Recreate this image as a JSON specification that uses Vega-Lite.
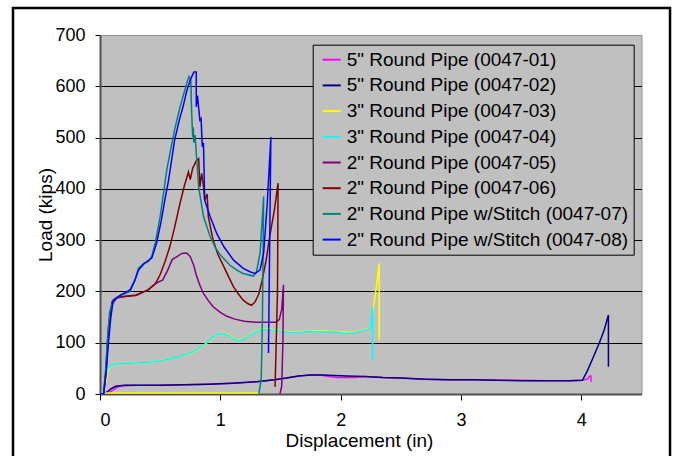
{
  "$schema": "https://vega.github.io/schema/vega-lite/v6.json",
  "autosize": {"type": "none"},
  "width": 541.5,
  "height": 359,
  "padding": {"left": 100, "top": 35, "right": 34.5, "bottom": 62},
  "background": "white",
  "config": {
    "font": "Liberation Sans",
    "view": {"fill": "#C0C0C0", "stroke": "#909090", "strokeWidth": 1}
  },
  "datasets": {
    "frame": [{"x1": -0.723, "x2": 4.737, "y1": -130, "y2": 752.5}]
  },
  "data": {"values": [
    {"s": "5\" Round Pipe (0047-01)", "x": 0, "y": 0},
    {"s": "5\" Round Pipe (0047-01)", "x": 0.05, "y": 0},
    {"s": "5\" Round Pipe (0047-01)", "x": 0.08, "y": 3},
    {"s": "5\" Round Pipe (0047-01)", "x": 0.11, "y": 8},
    {"s": "5\" Round Pipe (0047-01)", "x": 0.15, "y": 14},
    {"s": "5\" Round Pipe (0047-01)", "x": 0.2, "y": 16},
    {"s": "5\" Round Pipe (0047-01)", "x": 0.3, "y": 17},
    {"s": "5\" Round Pipe (0047-01)", "x": 0.5, "y": 17},
    {"s": "5\" Round Pipe (0047-01)", "x": 0.7, "y": 18},
    {"s": "5\" Round Pipe (0047-01)", "x": 0.9, "y": 19},
    {"s": "5\" Round Pipe (0047-01)", "x": 1.1, "y": 21},
    {"s": "5\" Round Pipe (0047-01)", "x": 1.3, "y": 24},
    {"s": "5\" Round Pipe (0047-01)", "x": 1.45, "y": 28},
    {"s": "5\" Round Pipe (0047-01)", "x": 1.55, "y": 31},
    {"s": "5\" Round Pipe (0047-01)", "x": 1.65, "y": 35},
    {"s": "5\" Round Pipe (0047-01)", "x": 1.75, "y": 37},
    {"s": "5\" Round Pipe (0047-01)", "x": 1.83, "y": 37},
    {"s": "5\" Round Pipe (0047-01)", "x": 1.9, "y": 34},
    {"s": "5\" Round Pipe (0047-01)", "x": 1.97, "y": 32},
    {"s": "5\" Round Pipe (0047-01)", "x": 2.05, "y": 32},
    {"s": "5\" Round Pipe (0047-01)", "x": 2.12, "y": 32},
    {"s": "5\" Round Pipe (0047-01)", "x": 2.2, "y": 34},
    {"s": "5\" Round Pipe (0047-01)", "x": 2.35, "y": 32},
    {"s": "5\" Round Pipe (0047-01)", "x": 2.5, "y": 31},
    {"s": "5\" Round Pipe (0047-01)", "x": 2.7, "y": 29},
    {"s": "5\" Round Pipe (0047-01)", "x": 2.9, "y": 28},
    {"s": "5\" Round Pipe (0047-01)", "x": 3.1, "y": 28},
    {"s": "5\" Round Pipe (0047-01)", "x": 3.3, "y": 27},
    {"s": "5\" Round Pipe (0047-01)", "x": 3.5, "y": 27},
    {"s": "5\" Round Pipe (0047-01)", "x": 3.7, "y": 26},
    {"s": "5\" Round Pipe (0047-01)", "x": 3.9, "y": 26},
    {"s": "5\" Round Pipe (0047-01)", "x": 4.0, "y": 27},
    {"s": "5\" Round Pipe (0047-01)", "x": 4.05, "y": 29},
    {"s": "5\" Round Pipe (0047-01)", "x": 4.07, "y": 35},
    {"s": "5\" Round Pipe (0047-01)", "x": 4.08, "y": 35},
    {"s": "5\" Round Pipe (0047-01)", "x": 4.08, "y": 24},

    {"s": "5\" Round Pipe (0047-02)", "x": 0, "y": 0},
    {"s": "5\" Round Pipe (0047-02)", "x": 0.03, "y": 0},
    {"s": "5\" Round Pipe (0047-02)", "x": 0.06, "y": 4},
    {"s": "5\" Round Pipe (0047-02)", "x": 0.09, "y": 10},
    {"s": "5\" Round Pipe (0047-02)", "x": 0.13, "y": 15},
    {"s": "5\" Round Pipe (0047-02)", "x": 0.2, "y": 17},
    {"s": "5\" Round Pipe (0047-02)", "x": 0.3, "y": 17},
    {"s": "5\" Round Pipe (0047-02)", "x": 0.5, "y": 17},
    {"s": "5\" Round Pipe (0047-02)", "x": 0.7, "y": 18},
    {"s": "5\" Round Pipe (0047-02)", "x": 0.9, "y": 19},
    {"s": "5\" Round Pipe (0047-02)", "x": 1.1, "y": 21},
    {"s": "5\" Round Pipe (0047-02)", "x": 1.3, "y": 24},
    {"s": "5\" Round Pipe (0047-02)", "x": 1.45, "y": 28},
    {"s": "5\" Round Pipe (0047-02)", "x": 1.55, "y": 31},
    {"s": "5\" Round Pipe (0047-02)", "x": 1.65, "y": 35},
    {"s": "5\" Round Pipe (0047-02)", "x": 1.75, "y": 37},
    {"s": "5\" Round Pipe (0047-02)", "x": 1.85, "y": 37},
    {"s": "5\" Round Pipe (0047-02)", "x": 1.95, "y": 36},
    {"s": "5\" Round Pipe (0047-02)", "x": 2.05, "y": 35},
    {"s": "5\" Round Pipe (0047-02)", "x": 2.2, "y": 34},
    {"s": "5\" Round Pipe (0047-02)", "x": 2.35, "y": 32},
    {"s": "5\" Round Pipe (0047-02)", "x": 2.5, "y": 31},
    {"s": "5\" Round Pipe (0047-02)", "x": 2.7, "y": 29},
    {"s": "5\" Round Pipe (0047-02)", "x": 2.9, "y": 28},
    {"s": "5\" Round Pipe (0047-02)", "x": 3.1, "y": 28},
    {"s": "5\" Round Pipe (0047-02)", "x": 3.3, "y": 27},
    {"s": "5\" Round Pipe (0047-02)", "x": 3.5, "y": 26},
    {"s": "5\" Round Pipe (0047-02)", "x": 3.7, "y": 26},
    {"s": "5\" Round Pipe (0047-02)", "x": 3.9, "y": 26},
    {"s": "5\" Round Pipe (0047-02)", "x": 4.01, "y": 27},
    {"s": "5\" Round Pipe (0047-02)", "x": 4.05, "y": 45},
    {"s": "5\" Round Pipe (0047-02)", "x": 4.1, "y": 72},
    {"s": "5\" Round Pipe (0047-02)", "x": 4.15, "y": 100},
    {"s": "5\" Round Pipe (0047-02)", "x": 4.19, "y": 125},
    {"s": "5\" Round Pipe (0047-02)", "x": 4.225, "y": 154},
    {"s": "5\" Round Pipe (0047-02)", "x": 4.225, "y": 53},

    {"s": "3\" Round Pipe (0047-03)", "p": "b", "x": 0.03, "y": 2},
    {"s": "3\" Round Pipe (0047-03)", "p": "b", "x": 1.33, "y": 2},
    {"s": "3\" Round Pipe (0047-03)", "x": 0, "y": 0},
    {"s": "3\" Round Pipe (0047-03)", "x": 0.03, "y": 0},
    {"s": "3\" Round Pipe (0047-03)", "x": 0.05, "y": 25},
    {"s": "3\" Round Pipe (0047-03)", "x": 0.07, "y": 48},
    {"s": "3\" Round Pipe (0047-03)", "x": 0.1, "y": 57},
    {"s": "3\" Round Pipe (0047-03)", "x": 0.15, "y": 59},
    {"s": "3\" Round Pipe (0047-03)", "x": 0.25, "y": 60},
    {"s": "3\" Round Pipe (0047-03)", "x": 0.35, "y": 61},
    {"s": "3\" Round Pipe (0047-03)", "x": 0.45, "y": 63},
    {"s": "3\" Round Pipe (0047-03)", "x": 0.55, "y": 67},
    {"s": "3\" Round Pipe (0047-03)", "x": 0.65, "y": 72},
    {"s": "3\" Round Pipe (0047-03)", "x": 0.75, "y": 79},
    {"s": "3\" Round Pipe (0047-03)", "x": 0.82, "y": 87},
    {"s": "3\" Round Pipe (0047-03)", "x": 0.88, "y": 98},
    {"s": "3\" Round Pipe (0047-03)", "x": 0.94, "y": 110},
    {"s": "3\" Round Pipe (0047-03)", "x": 1.0, "y": 119},
    {"s": "3\" Round Pipe (0047-03)", "x": 1.03, "y": 119},
    {"s": "3\" Round Pipe (0047-03)", "x": 1.07, "y": 115},
    {"s": "3\" Round Pipe (0047-03)", "x": 1.11, "y": 108},
    {"s": "3\" Round Pipe (0047-03)", "x": 1.16, "y": 105},
    {"s": "3\" Round Pipe (0047-03)", "x": 1.21, "y": 110},
    {"s": "3\" Round Pipe (0047-03)", "x": 1.27, "y": 119},
    {"s": "3\" Round Pipe (0047-03)", "x": 1.33, "y": 126},
    {"s": "3\" Round Pipe (0047-03)", "x": 1.4, "y": 127},
    {"s": "3\" Round Pipe (0047-03)", "x": 1.48, "y": 124},
    {"s": "3\" Round Pipe (0047-03)", "x": 1.56, "y": 121},
    {"s": "3\" Round Pipe (0047-03)", "x": 1.65, "y": 121},
    {"s": "3\" Round Pipe (0047-03)", "x": 1.75, "y": 123},
    {"s": "3\" Round Pipe (0047-03)", "x": 1.85, "y": 123},
    {"s": "3\" Round Pipe (0047-03)", "x": 1.95, "y": 122},
    {"s": "3\" Round Pipe (0047-03)", "x": 2.05, "y": 120},
    {"s": "3\" Round Pipe (0047-03)", "x": 2.12, "y": 121},
    {"s": "3\" Round Pipe (0047-03)", "x": 2.2, "y": 125},
    {"s": "3\" Round Pipe (0047-03)", "x": 2.25, "y": 130},
    {"s": "3\" Round Pipe (0047-03)", "x": 2.27, "y": 165},
    {"s": "3\" Round Pipe (0047-03)", "x": 2.3, "y": 215},
    {"s": "3\" Round Pipe (0047-03)", "x": 2.32, "y": 255},
    {"s": "3\" Round Pipe (0047-03)", "x": 2.32, "y": 105},

    {"s": "3\" Round Pipe (0047-04)", "x": 0, "y": 0},
    {"s": "3\" Round Pipe (0047-04)", "x": 0.03, "y": 0},
    {"s": "3\" Round Pipe (0047-04)", "x": 0.045, "y": 30},
    {"s": "3\" Round Pipe (0047-04)", "x": 0.065, "y": 50},
    {"s": "3\" Round Pipe (0047-04)", "x": 0.1, "y": 57},
    {"s": "3\" Round Pipe (0047-04)", "x": 0.15, "y": 59},
    {"s": "3\" Round Pipe (0047-04)", "x": 0.25, "y": 60},
    {"s": "3\" Round Pipe (0047-04)", "x": 0.35, "y": 61},
    {"s": "3\" Round Pipe (0047-04)", "x": 0.45, "y": 63},
    {"s": "3\" Round Pipe (0047-04)", "x": 0.55, "y": 67},
    {"s": "3\" Round Pipe (0047-04)", "x": 0.65, "y": 72},
    {"s": "3\" Round Pipe (0047-04)", "x": 0.75, "y": 80},
    {"s": "3\" Round Pipe (0047-04)", "x": 0.82, "y": 88},
    {"s": "3\" Round Pipe (0047-04)", "x": 0.88, "y": 99},
    {"s": "3\" Round Pipe (0047-04)", "x": 0.94, "y": 111},
    {"s": "3\" Round Pipe (0047-04)", "x": 0.99, "y": 118},
    {"s": "3\" Round Pipe (0047-04)", "x": 1.03, "y": 118},
    {"s": "3\" Round Pipe (0047-04)", "x": 1.07, "y": 114},
    {"s": "3\" Round Pipe (0047-04)", "x": 1.11, "y": 107},
    {"s": "3\" Round Pipe (0047-04)", "x": 1.16, "y": 104},
    {"s": "3\" Round Pipe (0047-04)", "x": 1.21, "y": 109},
    {"s": "3\" Round Pipe (0047-04)", "x": 1.27, "y": 118},
    {"s": "3\" Round Pipe (0047-04)", "x": 1.33, "y": 125},
    {"s": "3\" Round Pipe (0047-04)", "x": 1.4, "y": 126},
    {"s": "3\" Round Pipe (0047-04)", "x": 1.48, "y": 123},
    {"s": "3\" Round Pipe (0047-04)", "x": 1.56, "y": 120},
    {"s": "3\" Round Pipe (0047-04)", "x": 1.65, "y": 120},
    {"s": "3\" Round Pipe (0047-04)", "x": 1.75, "y": 122},
    {"s": "3\" Round Pipe (0047-04)", "x": 1.85, "y": 121},
    {"s": "3\" Round Pipe (0047-04)", "x": 1.95, "y": 121},
    {"s": "3\" Round Pipe (0047-04)", "x": 2.05, "y": 118},
    {"s": "3\" Round Pipe (0047-04)", "x": 2.12, "y": 120},
    {"s": "3\" Round Pipe (0047-04)", "x": 2.2, "y": 124},
    {"s": "3\" Round Pipe (0047-04)", "x": 2.25, "y": 129},
    {"s": "3\" Round Pipe (0047-04)", "x": 2.265, "y": 170},
    {"s": "3\" Round Pipe (0047-04)", "x": 2.265, "y": 66},

    {"s": "2\" Round Pipe (0047-05)", "x": 0, "y": 0},
    {"s": "2\" Round Pipe (0047-05)", "x": 0.03, "y": 0},
    {"s": "2\" Round Pipe (0047-05)", "x": 0.05, "y": 40},
    {"s": "2\" Round Pipe (0047-05)", "x": 0.07, "y": 120},
    {"s": "2\" Round Pipe (0047-05)", "x": 0.1, "y": 175},
    {"s": "2\" Round Pipe (0047-05)", "x": 0.14, "y": 187},
    {"s": "2\" Round Pipe (0047-05)", "x": 0.2, "y": 190},
    {"s": "2\" Round Pipe (0047-05)", "x": 0.3, "y": 192},
    {"s": "2\" Round Pipe (0047-05)", "x": 0.4, "y": 203},
    {"s": "2\" Round Pipe (0047-05)", "x": 0.46, "y": 215},
    {"s": "2\" Round Pipe (0047-05)", "x": 0.5, "y": 220},
    {"s": "2\" Round Pipe (0047-05)", "x": 0.52, "y": 222},
    {"s": "2\" Round Pipe (0047-05)", "x": 0.56, "y": 240},
    {"s": "2\" Round Pipe (0047-05)", "x": 0.6, "y": 262},
    {"s": "2\" Round Pipe (0047-05)", "x": 0.64, "y": 268},
    {"s": "2\" Round Pipe (0047-05)", "x": 0.68, "y": 274},
    {"s": "2\" Round Pipe (0047-05)", "x": 0.72, "y": 275},
    {"s": "2\" Round Pipe (0047-05)", "x": 0.75, "y": 268},
    {"s": "2\" Round Pipe (0047-05)", "x": 0.78, "y": 250},
    {"s": "2\" Round Pipe (0047-05)", "x": 0.8, "y": 232},
    {"s": "2\" Round Pipe (0047-05)", "x": 0.83, "y": 212},
    {"s": "2\" Round Pipe (0047-05)", "x": 0.86, "y": 196},
    {"s": "2\" Round Pipe (0047-05)", "x": 0.9, "y": 182},
    {"s": "2\" Round Pipe (0047-05)", "x": 0.94, "y": 170},
    {"s": "2\" Round Pipe (0047-05)", "x": 1.0, "y": 159},
    {"s": "2\" Round Pipe (0047-05)", "x": 1.05, "y": 152},
    {"s": "2\" Round Pipe (0047-05)", "x": 1.12, "y": 146},
    {"s": "2\" Round Pipe (0047-05)", "x": 1.2, "y": 142},
    {"s": "2\" Round Pipe (0047-05)", "x": 1.3, "y": 140},
    {"s": "2\" Round Pipe (0047-05)", "x": 1.4, "y": 140},
    {"s": "2\" Round Pipe (0047-05)", "x": 1.46, "y": 140},
    {"s": "2\" Round Pipe (0047-05)", "x": 1.49, "y": 145},
    {"s": "2\" Round Pipe (0047-05)", "x": 1.51, "y": 165},
    {"s": "2\" Round Pipe (0047-05)", "x": 1.525, "y": 213},
    {"s": "2\" Round Pipe (0047-05)", "x": 1.52, "y": 100},
    {"s": "2\" Round Pipe (0047-05)", "x": 1.51, "y": 15},
    {"s": "2\" Round Pipe (0047-05)", "x": 1.495, "y": 0},

    {"s": "2\" Round Pipe (0047-06)", "x": 0, "y": 0},
    {"s": "2\" Round Pipe (0047-06)", "x": 0.03, "y": 0},
    {"s": "2\" Round Pipe (0047-06)", "x": 0.05, "y": 50},
    {"s": "2\" Round Pipe (0047-06)", "x": 0.07, "y": 130},
    {"s": "2\" Round Pipe (0047-06)", "x": 0.1, "y": 180},
    {"s": "2\" Round Pipe (0047-06)", "x": 0.14, "y": 188},
    {"s": "2\" Round Pipe (0047-06)", "x": 0.2, "y": 190},
    {"s": "2\" Round Pipe (0047-06)", "x": 0.3, "y": 193},
    {"s": "2\" Round Pipe (0047-06)", "x": 0.4, "y": 203},
    {"s": "2\" Round Pipe (0047-06)", "x": 0.46, "y": 215},
    {"s": "2\" Round Pipe (0047-06)", "x": 0.5, "y": 233},
    {"s": "2\" Round Pipe (0047-06)", "x": 0.54, "y": 258},
    {"s": "2\" Round Pipe (0047-06)", "x": 0.58, "y": 287},
    {"s": "2\" Round Pipe (0047-06)", "x": 0.62, "y": 325},
    {"s": "2\" Round Pipe (0047-06)", "x": 0.665, "y": 372},
    {"s": "2\" Round Pipe (0047-06)", "x": 0.7, "y": 405},
    {"s": "2\" Round Pipe (0047-06)", "x": 0.735, "y": 433},
    {"s": "2\" Round Pipe (0047-06)", "x": 0.75, "y": 418},
    {"s": "2\" Round Pipe (0047-06)", "x": 0.77, "y": 440},
    {"s": "2\" Round Pipe (0047-06)", "x": 0.8, "y": 455},
    {"s": "2\" Round Pipe (0047-06)", "x": 0.82, "y": 459},
    {"s": "2\" Round Pipe (0047-06)", "x": 0.83, "y": 404},
    {"s": "2\" Round Pipe (0047-06)", "x": 0.845, "y": 430},
    {"s": "2\" Round Pipe (0047-06)", "x": 0.86, "y": 405},
    {"s": "2\" Round Pipe (0047-06)", "x": 0.87, "y": 378},
    {"s": "2\" Round Pipe (0047-06)", "x": 0.89, "y": 390},
    {"s": "2\" Round Pipe (0047-06)", "x": 0.9, "y": 346},
    {"s": "2\" Round Pipe (0047-06)", "x": 0.94, "y": 300},
    {"s": "2\" Round Pipe (0047-06)", "x": 0.98, "y": 272},
    {"s": "2\" Round Pipe (0047-06)", "x": 1.03, "y": 248},
    {"s": "2\" Round Pipe (0047-06)", "x": 1.07, "y": 228},
    {"s": "2\" Round Pipe (0047-06)", "x": 1.11, "y": 209},
    {"s": "2\" Round Pipe (0047-06)", "x": 1.15, "y": 195},
    {"s": "2\" Round Pipe (0047-06)", "x": 1.19, "y": 183},
    {"s": "2\" Round Pipe (0047-06)", "x": 1.23, "y": 176},
    {"s": "2\" Round Pipe (0047-06)", "x": 1.26, "y": 173},
    {"s": "2\" Round Pipe (0047-06)", "x": 1.29, "y": 180},
    {"s": "2\" Round Pipe (0047-06)", "x": 1.32, "y": 195},
    {"s": "2\" Round Pipe (0047-06)", "x": 1.345, "y": 219},
    {"s": "2\" Round Pipe (0047-06)", "x": 1.38, "y": 260},
    {"s": "2\" Round Pipe (0047-06)", "x": 1.41, "y": 307},
    {"s": "2\" Round Pipe (0047-06)", "x": 1.45, "y": 360},
    {"s": "2\" Round Pipe (0047-06)", "x": 1.48, "y": 411},
    {"s": "2\" Round Pipe (0047-06)", "x": 1.475, "y": 200},
    {"s": "2\" Round Pipe (0047-06)", "x": 1.46, "y": 60},
    {"s": "2\" Round Pipe (0047-06)", "x": 1.455, "y": 14},

    {"s": "2\" Round Pipe w/Stitch (0047-07)", "x": 0, "y": 0},
    {"s": "2\" Round Pipe w/Stitch (0047-07)", "x": 0.03, "y": 0},
    {"s": "2\" Round Pipe w/Stitch (0047-07)", "x": 0.045, "y": 40},
    {"s": "2\" Round Pipe w/Stitch (0047-07)", "x": 0.06, "y": 100},
    {"s": "2\" Round Pipe w/Stitch (0047-07)", "x": 0.08, "y": 160},
    {"s": "2\" Round Pipe w/Stitch (0047-07)", "x": 0.11, "y": 183},
    {"s": "2\" Round Pipe w/Stitch (0047-07)", "x": 0.17, "y": 192},
    {"s": "2\" Round Pipe w/Stitch (0047-07)", "x": 0.25, "y": 200},
    {"s": "2\" Round Pipe w/Stitch (0047-07)", "x": 0.29, "y": 222},
    {"s": "2\" Round Pipe w/Stitch (0047-07)", "x": 0.32, "y": 245},
    {"s": "2\" Round Pipe w/Stitch (0047-07)", "x": 0.36, "y": 254},
    {"s": "2\" Round Pipe w/Stitch (0047-07)", "x": 0.4, "y": 258},
    {"s": "2\" Round Pipe w/Stitch (0047-07)", "x": 0.43, "y": 268},
    {"s": "2\" Round Pipe w/Stitch (0047-07)", "x": 0.46, "y": 295},
    {"s": "2\" Round Pipe w/Stitch (0047-07)", "x": 0.5, "y": 346},
    {"s": "2\" Round Pipe w/Stitch (0047-07)", "x": 0.53, "y": 395},
    {"s": "2\" Round Pipe w/Stitch (0047-07)", "x": 0.555, "y": 437},
    {"s": "2\" Round Pipe w/Stitch (0047-07)", "x": 0.59, "y": 480},
    {"s": "2\" Round Pipe w/Stitch (0047-07)", "x": 0.62, "y": 515},
    {"s": "2\" Round Pipe w/Stitch (0047-07)", "x": 0.66, "y": 555},
    {"s": "2\" Round Pipe w/Stitch (0047-07)", "x": 0.69, "y": 580},
    {"s": "2\" Round Pipe w/Stitch (0047-07)", "x": 0.72, "y": 605},
    {"s": "2\" Round Pipe w/Stitch (0047-07)", "x": 0.74, "y": 619},
    {"s": "2\" Round Pipe w/Stitch (0047-07)", "x": 0.755, "y": 612},
    {"s": "2\" Round Pipe w/Stitch (0047-07)", "x": 0.76, "y": 560},
    {"s": "2\" Round Pipe w/Stitch (0047-07)", "x": 0.77, "y": 501},
    {"s": "2\" Round Pipe w/Stitch (0047-07)", "x": 0.775, "y": 520},
    {"s": "2\" Round Pipe w/Stitch (0047-07)", "x": 0.78, "y": 490},
    {"s": "2\" Round Pipe w/Stitch (0047-07)", "x": 0.79, "y": 505},
    {"s": "2\" Round Pipe w/Stitch (0047-07)", "x": 0.8, "y": 470},
    {"s": "2\" Round Pipe w/Stitch (0047-07)", "x": 0.82, "y": 404},
    {"s": "2\" Round Pipe w/Stitch (0047-07)", "x": 0.86, "y": 346},
    {"s": "2\" Round Pipe w/Stitch (0047-07)", "x": 0.915, "y": 307},
    {"s": "2\" Round Pipe w/Stitch (0047-07)", "x": 0.96, "y": 285},
    {"s": "2\" Round Pipe w/Stitch (0047-07)", "x": 1.0, "y": 271},
    {"s": "2\" Round Pipe w/Stitch (0047-07)", "x": 1.08, "y": 251},
    {"s": "2\" Round Pipe w/Stitch (0047-07)", "x": 1.14, "y": 241},
    {"s": "2\" Round Pipe w/Stitch (0047-07)", "x": 1.19, "y": 235},
    {"s": "2\" Round Pipe w/Stitch (0047-07)", "x": 1.275, "y": 230},
    {"s": "2\" Round Pipe w/Stitch (0047-07)", "x": 1.3, "y": 238},
    {"s": "2\" Round Pipe w/Stitch (0047-07)", "x": 1.33, "y": 274},
    {"s": "2\" Round Pipe w/Stitch (0047-07)", "x": 1.36, "y": 385},
    {"s": "2\" Round Pipe w/Stitch (0047-07)", "x": 1.35, "y": 150},
    {"s": "2\" Round Pipe w/Stitch (0047-07)", "x": 1.34, "y": 30},
    {"s": "2\" Round Pipe w/Stitch (0047-07)", "x": 1.32, "y": 0},

    {"s": "2\" Round Pipe w/Stitch (0047-08)", "x": 0, "y": 0},
    {"s": "2\" Round Pipe w/Stitch (0047-08)", "x": 0.03, "y": 0},
    {"s": "2\" Round Pipe w/Stitch (0047-08)", "x": 0.05, "y": 40},
    {"s": "2\" Round Pipe w/Stitch (0047-08)", "x": 0.07, "y": 99},
    {"s": "2\" Round Pipe w/Stitch (0047-08)", "x": 0.09, "y": 150},
    {"s": "2\" Round Pipe w/Stitch (0047-08)", "x": 0.11, "y": 183},
    {"s": "2\" Round Pipe w/Stitch (0047-08)", "x": 0.17, "y": 193},
    {"s": "2\" Round Pipe w/Stitch (0047-08)", "x": 0.25, "y": 203},
    {"s": "2\" Round Pipe w/Stitch (0047-08)", "x": 0.29, "y": 222},
    {"s": "2\" Round Pipe w/Stitch (0047-08)", "x": 0.32, "y": 242},
    {"s": "2\" Round Pipe w/Stitch (0047-08)", "x": 0.37, "y": 255},
    {"s": "2\" Round Pipe w/Stitch (0047-08)", "x": 0.43, "y": 265},
    {"s": "2\" Round Pipe w/Stitch (0047-08)", "x": 0.47, "y": 294},
    {"s": "2\" Round Pipe w/Stitch (0047-08)", "x": 0.51, "y": 339},
    {"s": "2\" Round Pipe w/Stitch (0047-08)", "x": 0.54, "y": 380},
    {"s": "2\" Round Pipe w/Stitch (0047-08)", "x": 0.57, "y": 417},
    {"s": "2\" Round Pipe w/Stitch (0047-08)", "x": 0.62, "y": 495},
    {"s": "2\" Round Pipe w/Stitch (0047-08)", "x": 0.66, "y": 535},
    {"s": "2\" Round Pipe w/Stitch (0047-08)", "x": 0.69, "y": 560},
    {"s": "2\" Round Pipe w/Stitch (0047-08)", "x": 0.72, "y": 590},
    {"s": "2\" Round Pipe w/Stitch (0047-08)", "x": 0.75, "y": 612},
    {"s": "2\" Round Pipe w/Stitch (0047-08)", "x": 0.78, "y": 628},
    {"s": "2\" Round Pipe w/Stitch (0047-08)", "x": 0.8, "y": 628},
    {"s": "2\" Round Pipe w/Stitch (0047-08)", "x": 0.8, "y": 560},
    {"s": "2\" Round Pipe w/Stitch (0047-08)", "x": 0.81, "y": 582},
    {"s": "2\" Round Pipe w/Stitch (0047-08)", "x": 0.83, "y": 534},
    {"s": "2\" Round Pipe w/Stitch (0047-08)", "x": 0.84, "y": 537},
    {"s": "2\" Round Pipe w/Stitch (0047-08)", "x": 0.85, "y": 482},
    {"s": "2\" Round Pipe w/Stitch (0047-08)", "x": 0.86, "y": 490},
    {"s": "2\" Round Pipe w/Stitch (0047-08)", "x": 0.87, "y": 378},
    {"s": "2\" Round Pipe w/Stitch (0047-08)", "x": 0.915, "y": 346},
    {"s": "2\" Round Pipe w/Stitch (0047-08)", "x": 0.97, "y": 313},
    {"s": "2\" Round Pipe w/Stitch (0047-08)", "x": 1.03, "y": 287},
    {"s": "2\" Round Pipe w/Stitch (0047-08)", "x": 1.11, "y": 261},
    {"s": "2\" Round Pipe w/Stitch (0047-08)", "x": 1.19, "y": 245},
    {"s": "2\" Round Pipe w/Stitch (0047-08)", "x": 1.25, "y": 238},
    {"s": "2\" Round Pipe w/Stitch (0047-08)", "x": 1.29, "y": 235},
    {"s": "2\" Round Pipe w/Stitch (0047-08)", "x": 1.33, "y": 242},
    {"s": "2\" Round Pipe w/Stitch (0047-08)", "x": 1.36, "y": 275},
    {"s": "2\" Round Pipe w/Stitch (0047-08)", "x": 1.39, "y": 372},
    {"s": "2\" Round Pipe w/Stitch (0047-08)", "x": 1.42, "y": 501},
    {"s": "2\" Round Pipe w/Stitch (0047-08)", "x": 1.40, "y": 80}
  ]},
  "layer": [
    {
      "data": {"name": "frame"},
      "mark": {"type": "rect", "fill": null, "stroke": "#000000", "strokeWidth": 2.5, "clip": false},
      "encoding": {
        "x": {"field": "x1", "type": "quantitative", "scale": {"domain": [0, 4.5], "nice": false, "zero": false}},
        "x2": {"field": "x2"},
        "y": {"field": "y1", "type": "quantitative", "scale": {"domain": [0, 700], "nice": false}},
        "y2": {"field": "y2"}
      }
    },
    {
      "mark": {"type": "line", "strokeWidth": 1.5, "clip": true},
      "encoding": {
        "x": {
          "field": "x", "type": "quantitative",
          "scale": {"domain": [0, 4.5], "nice": false, "zero": false},
          "axis": {
            "values": [0, 1, 2, 3, 4],
            "format": "d",
            "grid": false,
            "domainColor": "#505050", "domainWidth": 2,
            "tickColor": "#000000", "tickSize": 6, "tickWidth": 1,
            "labelFontSize": 18, "labelColor": "#000000", "labelPadding": 11, "labelFont": "Liberation Sans",
            "title": "Displacement (in)", "titleFontSize": 19, "titleFontWeight": "normal", "titleColor": "#000000", "titleFont": "Liberation Sans",
            "titleX": 259, "titleY": 52.5, "titleBaseline": "alphabetic"
          }
        },
        "y": {
          "field": "y", "type": "quantitative",
          "scale": {"domain": [0, 700], "nice": false},
          "axis": {
            "values": [0, 100, 200, 300, 400, 500, 600, 700],
            "grid": true,
            "gridColor": {"condition": {"test": "datum.value == 0 || datum.value == 700", "value": "transparent"}, "value": "#000000"},
            "gridWidth": 1,
            "domainColor": "#505050", "domainWidth": 2,
            "tickColor": "#000000", "tickSize": 5, "tickWidth": 1,
            "labelFontSize": 18, "labelColor": "#000000", "labelPadding": 10, "labelFont": "Liberation Sans",
            "title": "Load (kips)", "titleFontSize": 19, "titleFontWeight": "normal", "titleColor": "#000000", "titleFont": "Liberation Sans",
            "titleX": -48.3, "titleY": 179.5, "titleBaseline": "alphabetic"
          }
        },
        "detail": {"field": "p"},
        "order": {"value": null},
        "color": {
          "field": "s", "type": "nominal",
          "scale": {
            "domain": ["5\" Round Pipe (0047-01)", "5\" Round Pipe (0047-02)", "3\" Round Pipe (0047-03)", "3\" Round Pipe (0047-04)", "2\" Round Pipe (0047-05)", "2\" Round Pipe (0047-06)", "2\" Round Pipe w/Stitch (0047-07)", "2\" Round Pipe w/Stitch (0047-08)"],
            "range": ["#FF00FF", "#000080", "#FFFF00", "#00FFFF", "#800080", "#800000", "#008080", "#0000FF"]
          },
          "legend": {
            "orient": "none", "legendX": 212.7, "legendY": 9.7,
            "title": null,
            "fillColor": "#C0C0C0", "strokeColor": "#000000",
            "padding": 5, "rowPadding": 5.7,
            "labelFontSize": 19, "labelFont": "Liberation Sans", "labelColor": "#000000", "labelLimit": 400,
            "symbolType": "stroke", "symbolSize": 324, "symbolStrokeWidth": 2, "symbolOffset": 4, "labelOffset": 5
          }
        }
      }
    }
  ]
}
